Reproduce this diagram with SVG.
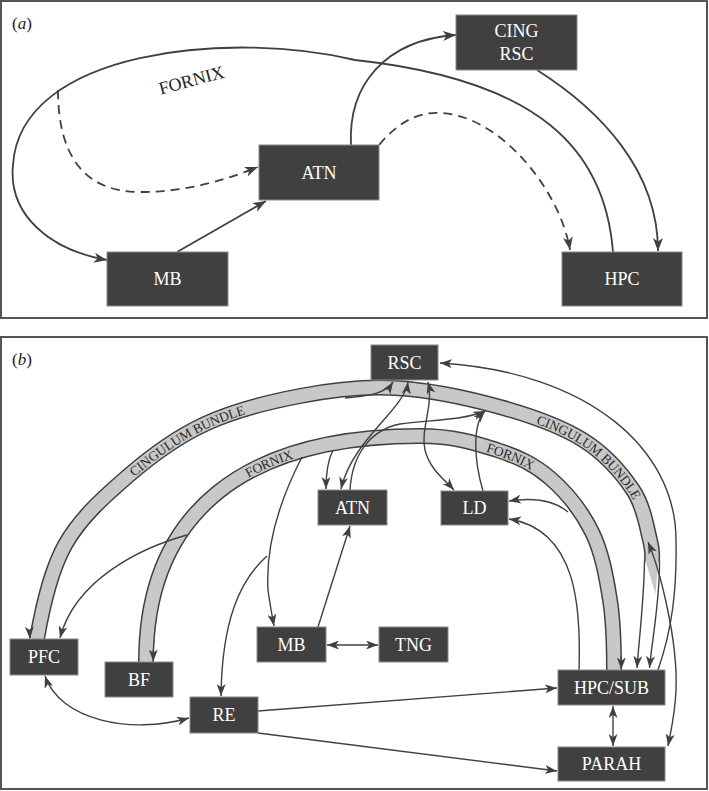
<svg xmlns="http://www.w3.org/2000/svg" width="709" height="791" viewBox="0 0 709 791">
<style>
.frame{fill:#fff;stroke:#555;stroke-width:2}
.box{fill:#404040;stroke:#8a8a8a;stroke-width:1}
.lbl{font-family:"Liberation Serif","DejaVu Serif",serif;font-size:18px;fill:#fff;text-anchor:middle}
.pl{font-family:"Liberation Serif","DejaVu Serif",serif;font-size:17px;fill:#222}
.fx{font-family:"Liberation Serif","DejaVu Serif",serif;font-size:18px;fill:#222;text-anchor:middle}
.ca{fill:none;stroke:#404040;stroke-width:1.8}
.cb{fill:none;stroke:#404040;stroke-width:1.4}
.dash{stroke-dasharray:9 6}
.bandO{fill:none;stroke:#404040;stroke-width:16}
.bandI{fill:none;stroke:#c8c8c8;stroke-width:13}
.blab{font-family:"Liberation Serif","DejaVu Serif",serif;font-size:13.5px;fill:#2a2a2a;text-anchor:middle}
</style>
<defs>
<marker id="aa" viewBox="0 0 13 10" refX="13" refY="5" markerWidth="13" markerHeight="10" markerUnits="userSpaceOnUse" orient="auto-start-reverse"><path d="M0,0 L13,5 L0,10 L3.5,5 z" fill="#404040"/></marker>
<marker id="ab" viewBox="0 0 12 9" refX="12" refY="4.5" markerWidth="12" markerHeight="9" markerUnits="userSpaceOnUse" orient="auto-start-reverse"><path d="M0,0 L12,4.5 L0,9 L3.2,4.5 z" fill="#404040"/></marker>
<path id="cingPath" d="M37,639 C42,610 49.8,572.3 65,545 C80.2,517.7 104.7,496.2 128,476 C151.3,455.8 176.3,437.3 205,424 C233.7,410.7 268.3,402 300,396 C331.7,390 361.7,386.2 395,388 C428.3,389.8 468.7,398.3 500,407 C531.3,415.7 560.8,426.2 583,440 C605.2,453.8 621.8,473.3 633,490 C644.2,506.7 646.8,528 650,540 C653.2,552 652,555 652,562"/>
<path id="fornPath" d="M146,662 C146,512 245,436 420,436 C453.7,436 475.3,443 497,450 C518.7,457 534.2,464.3 550,478 C565.8,491.7 582,511.7 592,532 C602,552.3 606.3,577 610,600 C613.7,623 614,650 614,670"/>
</defs>

<rect class="frame" x="1" y="1" width="706" height="317"/>
<rect class="frame" x="1" y="337" width="706" height="452"/>
<text class="pl" x="12" y="29">(<tspan font-style="italic">a</tspan>)</text>
<text class="pl" x="12" y="365">(<tspan font-style="italic">b</tspan>)</text>

<g id="connectors">
  <!-- panel a -->
  <path class="ca" d="M613,252 C605,150 540,80 355,60 C230,30 20,50 13,165 C8,215 50,250 107,260" marker-end="url(#aa)"/>
  <text class="fx" x="193" y="86" transform="rotate(-15 193 86)">FORNIX</text>
  <path class="ca dash" d="M58,90 C58,150 80,192 140,192 C190,192 230,178 258,167" marker-end="url(#aa)"/>
  <path class="ca dash" d="M379,145 C400,120 420,112 440,113 C500,115 560,190 570,250" marker-end="url(#aa)"/>
  <path class="ca" d="M351,145 C348,85 385,40 456,35" marker-end="url(#aa)"/>
  <path class="ca" d="M537,70 C600,110 658,170 658,251" marker-end="url(#aa)"/>
  <path class="ca" d="M177,252 L266,201" marker-end="url(#aa)"/>

  <!-- panel b bundles -->
  <g id="cingulum-bundle">
    <use href="#cingPath" class="bandO"/>
    <use href="#cingPath" class="bandI"/>
    <polygon points="645.5,561 658.5,561 655.5,594" fill="#c8c8c8"/>
    <path class="cb" d="M644.5,561 C644,600 639,640 637,668" marker-end="url(#ab)"/>
    <path class="cb" d="M659.5,561 C660,600 652,640 649.5,668" marker-end="url(#ab)"/>
    <path class="cb" d="M29.5,630 L29.8,638.5" marker-end="url(#ab)"/>
    <path class="cb" d="M345,398 C370,396 386,393 393,382" marker-end="url(#ab)"/>
    <text class="blab" dy="5"><textPath href="#cingPath" startOffset="262">CINGULUM BUNDLE</textPath></text>
    <text class="blab" dy="5"><textPath href="#cingPath" startOffset="692">CINGULUM BUNDLE</textPath></text>
  </g>
  <g id="fornix-bundle">
    <use href="#fornPath" class="bandO"/>
    <use href="#fornPath" class="bandI"/>
    <path class="cb" d="M153.3,650 L153.3,661.5" marker-end="url(#ab)"/>
    <path class="cb" d="M621.3,656 L621.3,669.5" marker-end="url(#ab)"/>
    <text class="blab" dy="5"><textPath href="#fornPath" startOffset="250">FORNIX</textPath></text>
    <text class="blab" dy="5"><textPath href="#fornPath" startOffset="498">FORNIX</textPath></text>
  </g>

  <!-- panel b lines -->
  <path class="cb" d="M408,382 C404,410 352,440 341,489" marker-start="url(#ab)" marker-end="url(#ab)"/>
  <path class="cb" d="M350,490 C352,455 370,430 400,424 C430,420 465,420 485,411" marker-end="url(#ab)"/>
  <path class="cb" d="M333,450 C328,460 326,472 326,489" marker-end="url(#ab)"/>
  <path class="cb" d="M428,382 C434,405 420,430 425,450 C430,470 445,480 454,490" marker-start="url(#ab)" marker-end="url(#ab)"/>
  <path class="cb" d="M483,491 C474,460 472,425 485,411" marker-end="url(#ab)"/>
  <path class="cb" d="M658,670 C672,630 677,590 676,540 C676,450 590,372 440,363" marker-end="url(#ab)"/>
  <path class="cb" d="M648,542 C660,570 678,640 676,690 C675,715 671,730 668,746" marker-start="url(#ab)" marker-end="url(#ab)"/>
  <path class="cb" d="M568,512 C555,501 535,497 509,501" marker-end="url(#ab)"/>
  <path class="cb" d="M579,670 C581,610 578,530 509,519" marker-end="url(#ab)"/>
  <path class="cb" d="M302,457 C285,490 265,540 268,590 C270,605 272,615 274,626" marker-end="url(#ab)"/>
  <path class="cb" d="M267,556 C240,580 222,620 221,696" marker-end="url(#ab)"/>
  <path class="cb" d="M318,627 L350,526" marker-end="url(#ab)"/>
  <path class="cb" d="M327,645 L378,645" marker-start="url(#ab)" marker-end="url(#ab)"/>
  <path class="cb" d="M187,535 C140,548 75,580 60,638" marker-end="url(#ab)"/>
  <path class="cb" d="M45,676 C60,720 130,735 189,718" marker-start="url(#ab)" marker-end="url(#ab)"/>
  <path class="cb" d="M258,711 L557,688" marker-end="url(#ab)"/>
  <path class="cb" d="M258,733 L557,771" marker-end="url(#ab)"/>
  <path class="cb" d="M613,706 L613,746" marker-start="url(#ab)" marker-end="url(#ab)"/>
</g>

<g id="a-MB"><rect class="box" x="107" y="252" width="121" height="54"/><text class="lbl" x="167.5" y="285">MB</text></g>
<g id="a-ATN"><rect class="box" x="259" y="145" width="120" height="55"/><text class="lbl" x="319" y="178.5">ATN</text></g>
<g id="a-CING-RSC"><rect class="box" x="456" y="15" width="121" height="55"/><text class="lbl" x="516.5" y="37">CING</text><text class="lbl" x="516.5" y="60">RSC</text></g>
<g id="a-HPC"><rect class="box" x="562" y="252" width="120" height="54"/><text class="lbl" x="622" y="285">HPC</text></g>

<g id="b-RSC"><rect class="box" x="371" y="345" width="67" height="35"/><text class="lbl" x="404.5" y="369">RSC</text></g>
<g id="b-ATN"><rect class="box" x="318" y="490" width="69" height="35"/><text class="lbl" x="352.5" y="514">ATN</text></g>
<g id="b-LD"><rect class="box" x="441" y="491" width="67" height="34"/><text class="lbl" x="474.5" y="514">LD</text></g>
<g id="b-PFC"><rect class="box" x="10" y="639" width="68" height="36"/><text class="lbl" x="44" y="663">PFC</text></g>
<g id="b-BF"><rect class="box" x="105" y="662" width="68" height="35"/><text class="lbl" x="139" y="686">BF</text></g>
<g id="b-RE"><rect class="box" x="190" y="697" width="68" height="36"/><text class="lbl" x="224" y="721">RE</text></g>
<g id="b-MB"><rect class="box" x="257" y="627" width="69" height="35"/><text class="lbl" x="291.5" y="651">MB</text></g>
<g id="b-TNG"><rect class="box" x="379" y="627" width="69" height="35"/><text class="lbl" x="413.5" y="651">TNG</text></g>
<g id="b-HPC-SUB"><rect class="box" x="558" y="670" width="107" height="35"/><text class="lbl" x="611.5" y="694">HPC/SUB</text></g>
<g id="b-PARAH"><rect class="box" x="558" y="747" width="107" height="34"/><text class="lbl" x="611.5" y="770">PARAH</text></g>
</svg>
